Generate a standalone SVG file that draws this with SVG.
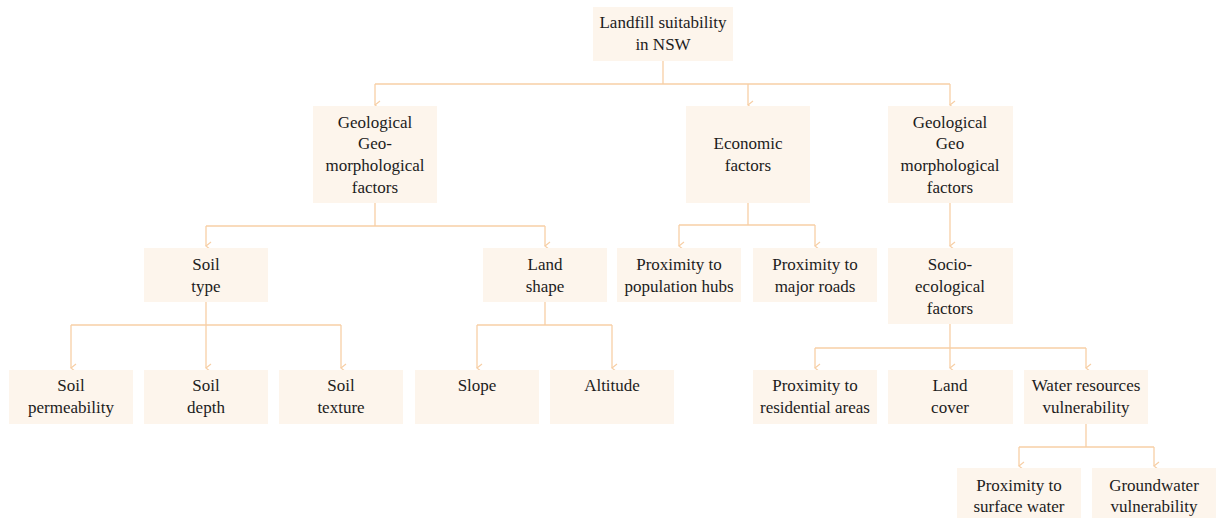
<svg xmlns="http://www.w3.org/2000/svg" width="1216" height="518" viewBox="0 0 1216 518">
<style>
.n rect{fill:#fdf5ec;stroke:none}
.c path{fill:none;stroke:#f7cfa6;stroke-width:1.3}
</style>
<defs>
<marker id="ah" viewBox="0 0 10 10" refX="5" refY="9" markerWidth="10" markerHeight="10" markerUnits="userSpaceOnUse" orient="auto-start-reverse">
<path d="M1,4 L5,9 L9,4" fill="none" stroke="#f7cfa6" stroke-width="1.2"/>
</marker>
</defs>
<rect width="1216" height="518" fill="#ffffff"/>
<g class="c">
<path d="M663,61 V84 H375 M663,84 H950"/>
<path d="M375,84 V105" marker-end="url(#ah)"/>
<path d="M748,84 V105" marker-end="url(#ah)"/>
<path d="M950,84 V105" marker-end="url(#ah)"/>
<path d="M375,203 V226 H206 M375,226 H545"/>
<path d="M206,226 V246" marker-end="url(#ah)"/>
<path d="M545,226 V246" marker-end="url(#ah)"/>
<path d="M748,203 V225 H679 M748,225 H815"/>
<path d="M679,225 V246" marker-end="url(#ah)"/>
<path d="M815,225 V246" marker-end="url(#ah)"/>
<path d="M950,203 V246" marker-end="url(#ah)"/>
<path d="M206,302 V325 H71 M206,325 H341"/>
<path d="M71,325 V368" marker-end="url(#ah)"/>
<path d="M206,325 V368" marker-end="url(#ah)"/>
<path d="M341,325 V368" marker-end="url(#ah)"/>
<path d="M545,302 V325 H477 M545,325 H612"/>
<path d="M477,325 V368" marker-end="url(#ah)"/>
<path d="M612,325 V368" marker-end="url(#ah)"/>
<path d="M950,324 V348 H815 M950,348 H1086"/>
<path d="M815,348 V368" marker-end="url(#ah)"/>
<path d="M950,348 V368" marker-end="url(#ah)"/>
<path d="M1086,348 V368" marker-end="url(#ah)"/>
<path d="M1086,424 V447 H1019 M1086,447 H1154"/>
<path d="M1019,447 V466" marker-end="url(#ah)"/>
<path d="M1154,447 V466" marker-end="url(#ah)"/>
</g>
<g font-family="Liberation Serif, Times New Roman, serif" font-size="17" fill="#1c1c1c" text-anchor="middle">
<g id="root" class="n"><rect x="593" y="7" width="140" height="54"/><text x="663" y="28">Landfill suitability</text><text x="663" y="50">in NSW</text></g>
<g id="geo1" class="n"><rect x="313" y="106" width="124" height="97"/><text x="375" y="128">Geological</text><text x="375" y="149">Geo-</text><text x="375" y="171">morphological</text><text x="375" y="193">factors</text></g>
<g id="econ" class="n"><rect x="686" y="106" width="124" height="97"/><text x="748" y="149">Economic</text><text x="748" y="171">factors</text></g>
<g id="geo2" class="n"><rect x="888" y="106" width="125" height="97"/><text x="950" y="128">Geological</text><text x="950" y="149">Geo</text><text x="950" y="171">morphological</text><text x="950" y="193">factors</text></g>
<g id="soiltype" class="n"><rect x="144" y="248" width="124" height="54"/><text x="206" y="270">Soil</text><text x="206" y="292">type</text></g>
<g id="landshape" class="n"><rect x="483" y="248" width="124" height="54"/><text x="545" y="270">Land</text><text x="545" y="292">shape</text></g>
<g id="pophubs" class="n"><rect x="617" y="248" width="124" height="54"/><text x="679" y="270">Proximity to</text><text x="679" y="292">population hubs</text></g>
<g id="roads" class="n"><rect x="753" y="248" width="124" height="54"/><text x="815" y="270">Proximity to</text><text x="815" y="292">major roads</text></g>
<g id="socio" class="n"><rect x="888" y="248" width="125" height="76"/><text x="950" y="270">Socio-</text><text x="950" y="292">ecological</text><text x="950" y="314">factors</text></g>
<g id="perm" class="n"><rect x="9" y="370" width="124" height="54"/><text x="71" y="391">Soil</text><text x="71" y="413">permeability</text></g>
<g id="depth" class="n"><rect x="144" y="370" width="124" height="54"/><text x="206" y="391">Soil</text><text x="206" y="413">depth</text></g>
<g id="texture" class="n"><rect x="279" y="370" width="124" height="54"/><text x="341" y="391">Soil</text><text x="341" y="413">texture</text></g>
<g id="slope" class="n"><rect x="415" y="370" width="124" height="54"/><text x="477" y="391">Slope</text></g>
<g id="altitude" class="n"><rect x="550" y="370" width="124" height="54"/><text x="612" y="391">Altitude</text></g>
<g id="resid" class="n"><rect x="753" y="370" width="124" height="54"/><text x="815" y="391">Proximity to</text><text x="815" y="413">residential areas</text></g>
<g id="landcover" class="n"><rect x="888" y="370" width="125" height="54"/><text x="950" y="391">Land</text><text x="950" y="413">cover</text></g>
<g id="water" class="n"><rect x="1024" y="370" width="124" height="54"/><text x="1086" y="391">Water resources</text><text x="1086" y="413">vulnerability</text></g>
<g id="surface" class="n"><rect x="957" y="468" width="124" height="54"/><text x="1019" y="491">Proximity to</text><text x="1019" y="512">surface water</text></g>
<g id="ground" class="n"><rect x="1092" y="468" width="124" height="54"/><text x="1154" y="491">Groundwater</text><text x="1154" y="512">vulnerability</text></g>
</g>
</svg>
